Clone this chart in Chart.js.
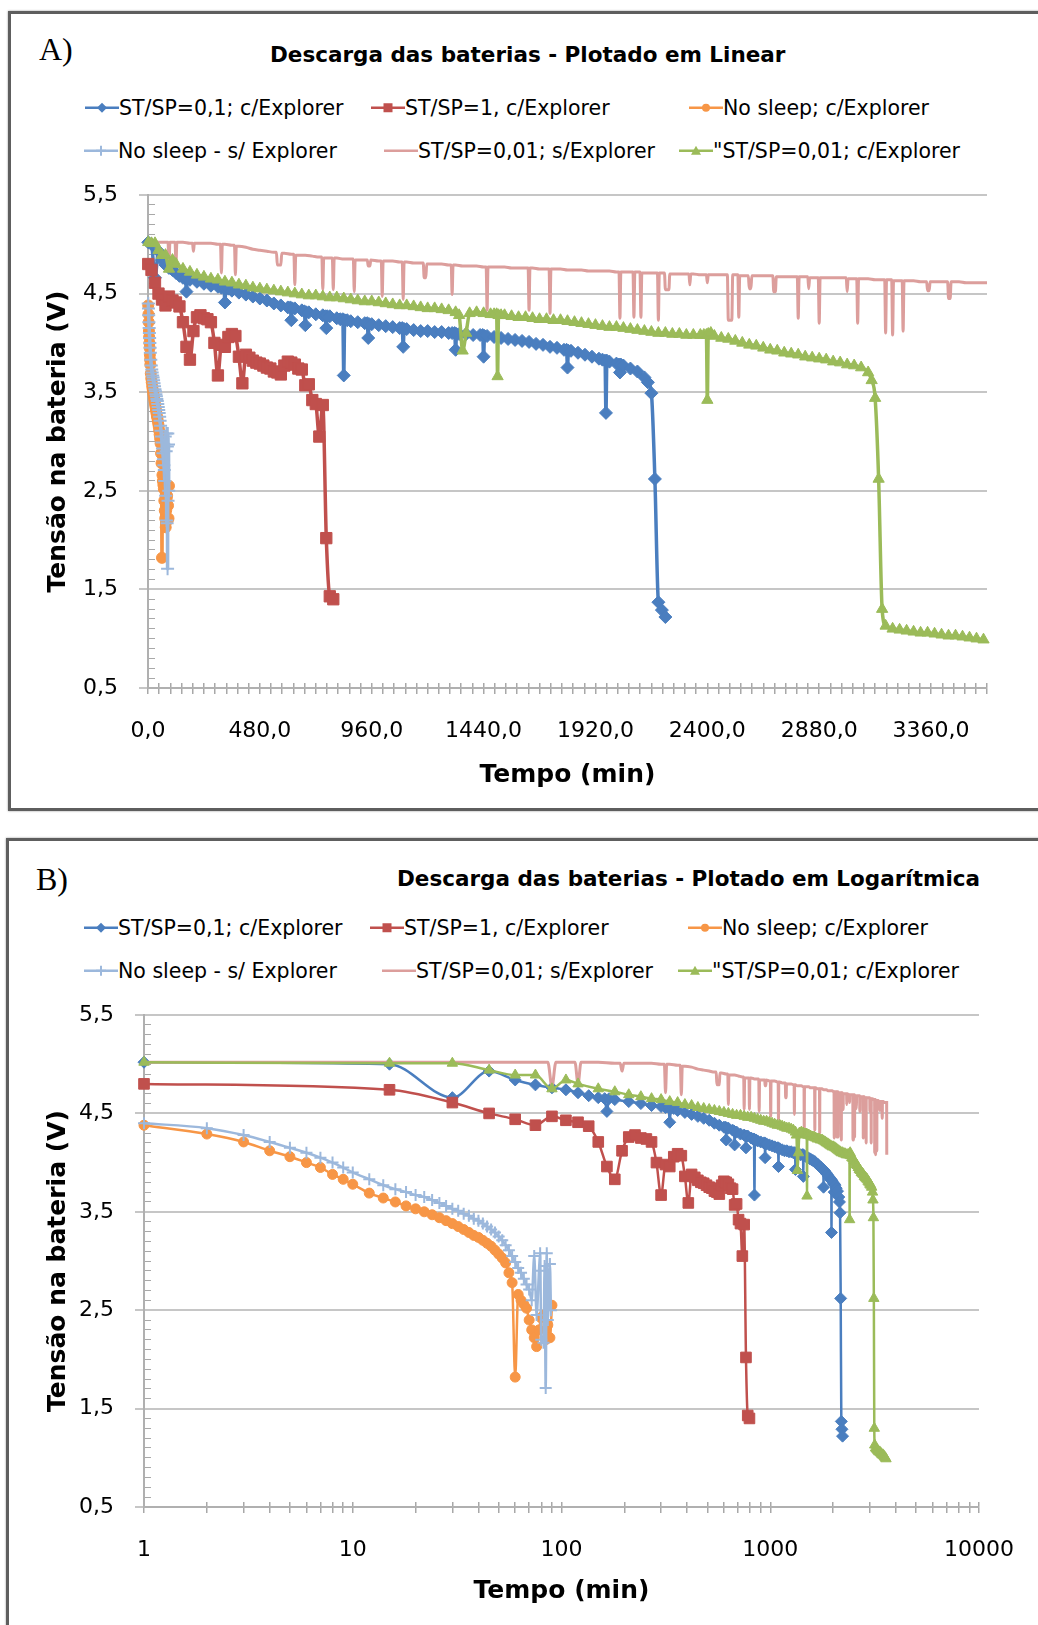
<!DOCTYPE html>
<html>
<head>
<meta charset="utf-8">
<script src="https://cdn.jsdelivr.net/npm/chart.js@4.4.1/dist/chart.umd.min.js"></script>
<style>
  body { margin: 0; background: #fff; width: 1038px; height: 1625px; overflow: hidden; position: relative; font-family: "DejaVu Sans", sans-serif; color: #000; }
  .box { position: absolute; border: 3px solid #5e5e5e; box-shadow: 0 0 2px #9a9a9a; }
  .tag { position: absolute; font-family: "Liberation Serif", serif; font-size: 32px; line-height: 1; transform: translateY(-50%); }
  .ttl { position: absolute; font-weight: bold; font-size: 21.5px; white-space: nowrap; line-height: 1; transform: translateY(-50%); }
  .leg { position: absolute; font-size: 20.5px; white-space: nowrap; line-height: 1; transform: translateY(-50%); display: flex; align-items: center; }
  canvas { position: absolute; left: 0; }
</style>
</head>
<body>
<div class="box" style="left:8px;top:11px;width:1100px;height:794px"></div>
<div class="box" style="left:6px;top:838px;width:1100px;height:900px"></div>
<div class="tag" style="left:39px;top:49px">A)</div>
<div class="tag" style="left:36px;top:879px">B)</div>
<div class="ttl" style="left:270px;top:55px">Descarga das baterias - Plotado em Linear</div>
<div class="ttl" style="left:397px;top:879px">Descarga das baterias - Plotado em Logarítmica</div>
<div id="legA"></div>
<div id="legB"></div>
<canvas id="chartA" width="1038" height="810" style="top:0;width:1038px;height:810px"></canvas>
<canvas id="chartB" width="1038" height="795" style="top:830px;width:1038px;height:795px"></canvas>
<script>
// series: [tempo (min), tensao (V)]
const blueData = [[1,5.02],[15,5.00],[30,4.66],[45,4.93],[60,4.84],[75,4.79],[90,4.76],[105,4.74],[120,4.71],[135,4.68],
  [150,4.66],[161,4.65],[165,4.52],[169,4.65],[180,4.64],[210,4.62],[240,4.60],[270,4.58],[300,4.57],[315,4.56],[326,4.56],[330,4.41],[334,4.55],[345,4.55],
  [360,4.53],[390,4.51],[420,4.49],[450,4.47],[480,4.45],[510,4.43],[540,4.40],[570,4.38],[600,4.36],[611,4.36],[615,4.23],[619,4.35],
  [630,4.35],[660,4.33],[671,4.32],[675,4.18],[679,4.31],[690,4.31],[720,4.29],[750,4.28],[761,4.27],[765,4.15],[769,4.27],[780,4.27],[810,4.25],[825,4.24],
  [836,4.24],[840,3.67],[844,4.23],[855,4.23],[870,4.22],[900,4.21],[930,4.20],[941,4.20],[945,4.05],[949,4.19],[960,4.19],[990,4.18],[1020,4.17],[1050,4.16],
  [1080,4.15],[1091,4.15],[1095,3.96],[1099,4.14],[1110,4.14],[1140,4.13],[1170,4.12],[1200,4.12],[1230,4.11],[1260,4.11],[1290,4.10],[1305,4.10],
  [1316,4.10],[1320,3.93],[1324,4.09],[1335,4.09],[1365,4.09],[1395,4.08],[1425,4.08],[1436,4.08],[1440,3.86],[1444,4.07],[1455,4.07],[1485,4.06],[1515,4.05],[1545,4.04],
  [1575,4.03],[1605,4.02],[1635,4.01],[1665,3.99],[1695,3.98],[1725,3.96],[1755,3.95],[1785,3.93],[1796,3.93],[1800,3.75],[1804,3.92],[1815,3.92],
  [1845,3.90],[1875,3.88],[1905,3.86],[1935,3.84],[1950,3.83],[1961,3.82],[1965,3.29],[1969,3.82],[1980,3.81],[2010,3.79],[2021,3.78],[2025,3.70],[2029,3.78],[2040,3.77],
  [2070,3.74],[2100,3.71],[2130,3.65],[2145,3.60],[2160,3.49],[2175,2.62],[2190,1.37],[2205,1.29],[2220,1.22]];

const redData = [[1,4.80],[15,4.74],[30,4.61],[45,4.50],[60,4.44],[75,4.38],[90,4.47],[105,4.43],[120,4.41],[135,4.37],
  [150,4.21],[165,3.96],[180,3.83],[195,4.12],[210,4.26],[225,4.28],[240,4.25],[255,4.24],[270,4.21],[285,4.00],
  [300,3.67],[315,3.98],[330,3.96],[345,4.06],[360,4.09],[375,4.07],[390,3.86],[405,3.59],[420,3.88],[435,3.85],
  [450,3.82],[465,3.80],[480,3.79],[495,3.77],[510,3.75],[525,3.74],[540,3.71],[555,3.70],[570,3.68],[585,3.77],
  [600,3.81],[615,3.80],[630,3.78],[645,3.74],[660,3.73],[675,3.57],[690,3.58],[705,3.42],[720,3.38],[735,3.05],
  [750,3.37],[765,2.02],[780,1.43],[795,1.40]];

const orangeData = [[1,4.38],[2,4.29],[3,4.21],[4,4.12],[5,4.06],[6,4.00],[7,3.95],[8,3.88],[9,3.83],[10,3.78],
  [12,3.69],[14,3.64],[16,3.60],[18,3.56],[20,3.53],[22,3.50],[24,3.47],[26,3.44],[28,3.41],[30,3.38],
  [32,3.35],[34,3.32],[36,3.29],[38,3.26],[40,3.24],[42,3.21],[44,3.18],[46,3.15],[48,3.11],[50,3.07],
  [52,3.03],[54,2.98],[56,2.88],[58,2.78],[60,1.82],[62,2.66],[64,2.60],[66,2.56],[68,2.52],[70,2.40],
  [72,2.30],[74,2.22],[76,2.13],[78,2.30],[80,2.42],[82,2.45],[84,2.20],[86,2.35],[88,2.22],[90,2.55]];

const lightBlueData = [[1,4.40],[2,4.35],[3,4.28],[4,4.21],[5,4.15],[6,4.10],[7,4.05],[8,4.00],[9,3.95],[10,3.90],
  [12,3.83],[14,3.77],[16,3.73],[18,3.70],[20,3.67],[22,3.65],[24,3.62],[26,3.59],[28,3.56],[30,3.53],
  [32,3.51],[34,3.48],[36,3.46],[38,3.43],[40,3.41],[42,3.38],[44,3.35],[46,3.32],[48,3.29],[50,3.25],
  [52,3.21],[54,3.16],[56,3.11],[58,3.05],[60,2.99],[62,2.93],[64,2.88],[66,2.82],[68,2.76],[70,2.71],
  [72,2.60],[74,3.05],[76,2.45],[78,2.90],[79,3.08],[80,2.20],[82,2.17],[83,2.95],[84,1.71],[85,3.08],
  [86,2.40],[88,2.97],[89,2.50]];

const pinkData = [[1,5.02],[30,5.02],[60,5.02],[75,5.02],[86,5.02],[90,4.77],[94,5.02],[105,5.02],[116,5.02],[120,4.80],[124,5.02],[135,5.02],[150,5.02],[180,5.01],
  [191,5.01],[195,4.93],[199,5.01],[210,5.01],[240,5.01],[270,5.01],[300,5.00],[311,5.00],[315,4.71],[319,5.00],[330,5.00],[360,4.99],[371,4.99],[375,4.69],[379,4.98],[390,4.98],
  [420,4.97],[450,4.95],[480,4.94],[510,4.93],[540,4.92],[551,4.92],[555,4.79],[570,4.79],[574,4.91],[585,4.91],[615,4.90],[626,4.90],[630,4.59],[634,4.89],
  [645,4.89],[675,4.89],[705,4.88],[735,4.87],[746,4.87],[750,4.54],[754,4.86],[765,4.86],[780,4.86],[791,4.86],[795,4.54],[799,4.86],[810,4.86],[840,4.85],
  [870,4.85],[881,4.85],[885,4.52],[889,4.84],[900,4.84],[930,4.84],[941,4.84],[945,4.78],[952,4.78],[956,4.84],[990,4.83],[1001,4.83],[1005,4.47],[1009,4.83],[1020,4.83],[1050,4.83],
  [1080,4.82],[1091,4.82],[1095,4.44],[1099,4.82],[1110,4.82],[1140,4.81],[1170,4.81],[1181,4.81],[1185,4.66],[1192,4.66],[1196,4.80],[1230,4.80],[1260,4.80],[1290,4.79],
  [1301,4.79],[1305,4.49],[1309,4.79],[1320,4.79],[1350,4.78],[1380,4.78],[1410,4.78],[1440,4.77],[1451,4.77],[1455,4.33],[1459,4.77],[1470,4.77],[1500,4.77],[1530,4.77],
  [1560,4.76],[1590,4.76],[1620,4.76],[1631,4.76],[1635,4.33],[1639,4.76],[1650,4.76],[1680,4.75],[1710,4.75],[1721,4.75],[1725,4.30],[1729,4.75],[1740,4.75],[1770,4.75],
  [1800,4.74],[1830,4.74],[1860,4.74],[1890,4.73],[1920,4.73],[1950,4.73],[1980,4.73],[2010,4.72],[2021,4.72],[2025,4.25],[2029,4.72],[2040,4.72],
  [2070,4.72],[2081,4.72],[2085,4.26],[2089,4.72],[2100,4.72],[2111,4.72],[2115,4.26],[2119,4.71],[2130,4.71],[2160,4.71],[2175,4.71],[2186,4.71],[2190,4.23],[2194,4.71],[2205,4.71],[2216,4.71],[2220,4.54],
  [2235,4.54],[2239,4.70],[2250,4.70],[2280,4.70],[2310,4.70],[2321,4.70],[2325,4.59],[2329,4.70],[2340,4.70],[2370,4.69],[2396,4.69],[2400,4.61],[2404,4.69],[2415,4.69],[2445,4.69],
  [2475,4.69],[2486,4.69],[2490,4.23],[2505,4.23],[2509,4.69],[2520,4.69],[2531,4.69],[2535,4.26],[2539,4.68],[2550,4.68],[2576,4.68],[2580,4.55],[2587,4.55],[2591,4.68],[2625,4.68],[2655,4.68],
  [2681,4.68],[2685,4.52],[2692,4.52],[2696,4.67],[2730,4.67],[2760,4.67],[2786,4.67],[2790,4.25],[2794,4.67],[2805,4.67],[2831,4.67],[2835,4.55],[2839,4.66],[2850,4.66],[2876,4.66],[2880,4.20],[2884,4.66],[2895,4.66],
  [2925,4.66],[2955,4.66],[2985,4.66],[2996,4.66],[3000,4.52],[3004,4.65],[3015,4.65],[3041,4.65],[3045,4.20],[3049,4.65],[3060,4.65],[3090,4.65],[3120,4.64],[3150,4.64],
  [3161,4.64],[3165,4.10],[3169,4.64],[3180,4.64],[3191,4.64],[3195,4.08],[3199,4.63],[3210,4.63],[3236,4.63],[3240,4.12],[3244,4.63],[3255,4.63],[3285,4.63],[3315,4.62],[3341,4.62],[3345,4.53],[3352,4.53],[3356,4.62],
  [3390,4.62],[3420,4.62],[3431,4.62],[3435,4.45],[3442,4.45],[3446,4.62],[3480,4.62],[3510,4.61],[3540,4.61],[3570,4.61],[3600,4.61],[3611,4.61],[3615,4.08]];

const greenData = [[1,5.02],[15,5.01],[30,5.01],[45,4.94],[60,4.89],[75,4.89],[90,4.75],[105,4.84],[120,4.80],[150,4.75],
  [180,4.72],[210,4.69],[240,4.67],[270,4.65],[300,4.64],[330,4.62],[360,4.61],[390,4.59],[420,4.58],[450,4.56],
  [480,4.55],[510,4.54],[540,4.53],[570,4.52],[600,4.51],[630,4.50],[660,4.49],[690,4.48],[720,4.48],[750,4.47],
  [780,4.46],[810,4.46],[840,4.45],[870,4.44],[900,4.43],[930,4.42],[960,4.42],[990,4.41],[1020,4.40],[1050,4.39],
  [1080,4.38],[1110,4.38],[1140,4.37],[1170,4.36],[1200,4.35],[1230,4.35],[1260,4.34],[1290,4.33],[1320,4.31],[1335,4.28],
  [1350,3.92],[1365,4.10],[1380,4.30],[1410,4.31],[1440,4.30],[1470,4.29],[1485,4.29],[1496,4.29],[1500,3.66],[1504,4.28],[1515,4.28],[1530,4.28],
  [1560,4.27],[1590,4.26],[1620,4.26],[1650,4.25],[1680,4.24],[1710,4.24],[1740,4.23],[1770,4.23],[1800,4.22],[1830,4.21],
  [1860,4.20],[1890,4.19],[1920,4.18],[1950,4.17],[1980,4.16],[2010,4.16],[2040,4.15],[2070,4.14],[2100,4.13],[2130,4.12],
  [2160,4.11],[2190,4.10],[2220,4.10],[2250,4.09],[2280,4.09],[2310,4.08],[2340,4.08],[2370,4.08],[2385,4.08],[2396,4.08],[2400,3.42],[2404,4.09],
  [2415,4.10],[2430,4.07],[2460,4.05],[2490,4.04],[2520,4.02],[2550,4.00],[2580,3.98],[2610,3.97],[2640,3.95],[2670,3.93],
  [2700,3.92],[2730,3.90],[2760,3.89],[2790,3.88],[2820,3.86],[2850,3.85],[2880,3.84],[2910,3.83],[2940,3.81],[2970,3.80],
  [3000,3.78],[3030,3.77],[3060,3.75],[3090,3.70],[3105,3.62],[3120,3.44],[3135,2.62],[3150,1.30],[3165,1.13],[3195,1.10],
  [3225,1.09],[3255,1.08],[3285,1.07],[3315,1.06],[3345,1.06],[3375,1.05],[3405,1.04],[3435,1.03],[3465,1.03],[3495,1.02],
  [3525,1.01],[3555,1.00],[3585,0.99]];

const seriesNames = ['ST/SP=0,1; c/Explorer', 'ST/SP=1, c/Explorer', 'No sleep; c/Explorer',
                     'No sleep - s/ Explorer', 'ST/SP=0,01; s/Explorer', '"ST/SP=0,01; c/Explorer'];
const seriesData = [blueData, redData, orangeData, lightBlueData, pinkData, greenData];

// axis ticks
const yMajor = [0.5, 1.5, 2.5, 3.5, 4.5, 5.5];
const yLabels = ['0,5', '1,5', '2,5', '3,5', '4,5', '5,5'];
const xMajorA = [0, 480, 960, 1440, 1920, 2400, 2880, 3360];
const xLabelsA = ['0,0', '480,0', '960,0', '1440,0', '1920,0', '2400,0', '2880,0', '3360,0'];
const xMajorB = [1, 10, 100, 1000, 10000];
const xLabelsB = ['1', '10', '100', '1000', '10000'];

// looks
const colors = ['#4a7ebf', '#c0504d', '#f79646', '#9cb8dc', '#dc9e9c', '#9bbb59'];
const markers = ['rectRot', 'rect', 'circle', 'cross', false, 'triangle'];
const markerSize = [5, 6.5, 4, 5, 0, 5];
const drawOrder = [6, 5, 4, 3, 2, 1];
const FONT = 'DejaVu Sans';

function findIdx(list, v) {
  return list.findIndex(m => Math.abs(m - v) < 1e-6);
}

function yTicks() {
  let out = [];
  for (let k = 5; k <= 55; k++) out.push({value: k / 10});
  return out;
}

function yScale(titlePad) {
  return {
    type: 'linear', min: 0.5, max: 5.5,
    afterBuildTicks: ax => { ax.ticks = yTicks(); },
    afterFit: s => { s.width = titlePad.w; },
    ticks: {
      autoSkip: false, padding: 21, color: '#000',
      font: {family: FONT, size: 22},
      callback: v => { const i = findIdx(yMajor, v); return i >= 0 ? yLabels[i] : ''; }
    },
    grid: {
      drawTicks: true, tickLength: 9,
      color: c => (c.tick && findIdx(yMajor, c.tick.value) >= 0) ? '#c6c6c6' : '#a8a8a8',
      lineWidth: c => (c.tick && findIdx(yMajor, c.tick.value) >= 0) ? 2 : 1,
      tickColor: c => (c.tick && findIdx(yMajor, c.tick.value) >= 0) ? '#c6c6c6' : 'rgba(0,0,0,0)',
      tickWidth: 2
    },
    border: {
      display: true, color: '#b0b0b0', width: 2,
      dash: c => (c.tick && findIdx(yMajor, c.tick.value) < 0) ? [6, 5000] : []
    },
    title: {
      display: true, text: 'Tensão na bateria (V)', color: '#000',
      font: {family: FONT, size: 25, weight: 'bold'},
      padding: {top: titlePad.t, bottom: 0}
    }
  };
}

function xGrid() {
  return {
    drawTicks: true, tickLength: 6, tickWidth: 1.5,
    color: '#a8a8a8', lineWidth: 1.5,
    tickColor: '#a8a8a8'
  };
}

function xBorder() {
  return {
    display: true, color: '#b0b0b0', width: 2,
    dash: c => c.tick ? [5, 5000] : [],
    dashOffset: c => (c.chart.chartArea ? -(c.chart.chartArea.height - 5) : 0)
  };
}

function makeSets(lineW, grow) {
  return seriesData.map((s, i) => ({
    label: seriesNames[i],
    data: s.map(p => ({x: p[0], y: p[1]})),
    borderColor: colors[i],
    backgroundColor: colors[i],
    borderWidth: markers[i] ? lineW : 3,
    pointStyle: markers[i],
    pointRadius: markerSize[i] ? markerSize[i] + grow : 0,
    pointBorderWidth: markers[i] === 'cross' ? 2 : 1,
    pointBorderColor: colors[i],
    pointBackgroundColor: colors[i],
    cubicInterpolationMode: 'monotone',
    order: drawOrder[i],
    clip: 9
  }));
}

const baseOptions = {
  responsive: false, animation: false, devicePixelRatio: 1,
  plugins: {legend: {display: false}, tooltip: {enabled: false}, title: {display: false}},
  events: []
};

// chart A: linear time axis
let xTicksA = [];
for (let v = 0; v <= 3600; v += 48) xTicksA.push(v);

new Chart(document.getElementById('chartA'), {
  type: 'line',
  data: {datasets: makeSets(3.5, 1.5)},
  options: Object.assign({}, baseOptions, {
    layout: {padding: {left: 30, right: 51, top: 195, bottom: 20}},
    scales: {
      x: {
        type: 'linear', min: 0, max: 3600,
        afterBuildTicks: ax => { ax.ticks = xTicksA.map(v => ({value: v})); },
        afterFit: s => { s.height = 102; },
        ticks: {
          autoSkip: false, maxRotation: 0, minRotation: 0, padding: 24, color: '#000',
          font: {family: FONT, size: 22},
          callback: v => { const i = findIdx(xMajorA, v); return i >= 0 ? xLabelsA[i] : ''; }
        },
        grid: xGrid(),
        border: xBorder(),
        title: {display: true, text: 'Tempo (min)', color: '#000', font: {family: FONT, size: 25, weight: 'bold'}, padding: {top: 0, bottom: 0}}
      },
      y: yScale({w: 118, t: 13})
    }
  })
});

// chart B: log time axis
let xTicksB = [];
for (let d = 1; d < 10000; d *= 10) {
  for (let m = 1; m < 10; m++) xTicksB.push(m * d);
}
xTicksB.push(10000);

new Chart(document.getElementById('chartB'), {
  type: 'line',
  data: {datasets: makeSets(2.5, 1)},
  options: Object.assign({}, baseOptions, {
    layout: {padding: {left: 30, right: 50, top: 185, bottom: 15}},
    scales: {
      x: {
        type: 'logarithmic', min: 1, max: 10000,
        afterBuildTicks: ax => { ax.ticks = xTicksB.map(v => ({value: v})); },
        afterFit: s => { s.height = 103; },
        ticks: {
          autoSkip: false, maxRotation: 0, minRotation: 0, padding: 24, color: '#000',
          font: {family: FONT, size: 22},
          callback: v => { const i = findIdx(xMajorB, v); return i >= 0 ? xLabelsB[i] : ''; }
        },
        grid: xGrid(),
        border: xBorder(),
        title: {display: true, text: 'Tempo (min)', color: '#000', font: {family: FONT, size: 25, weight: 'bold'}, padding: {top: 0, bottom: 4}}
      },
      y: yScale({w: 114, t: 13})
    }
  })
});

// legends (html)
const legendSpots = {
  legA: [[119, 108], [405, 108], [723, 108], [118, 151], [418, 151], [713, 151]],
  legB: [[118, 928], [404, 928], [722, 928], [118, 971], [416, 971], [712, 971]]
};

function markerSvg(i) {
  const c = colors[i];
  const w = 34, cy = 8, cx = 17;
  let m = '';
  if (markers[i] === 'rectRot') m = `<polygon points="${cx},${cy-5} ${cx+5},${cy} ${cx},${cy+5} ${cx-5},${cy}" fill="${c}"/>`;
  else if (markers[i] === 'rect') m = `<rect x="${cx-4.5}" y="${cy-4.5}" width="9" height="9" fill="${c}"/>`;
  else if (markers[i] === 'circle') m = `<circle cx="${cx}" cy="${cy}" r="4" fill="${c}"/>`;
  else if (markers[i] === 'cross') m = `<path d="M${cx-5} ${cy}H${cx+5}M${cx} ${cy-5}V${cy+5}" stroke="${c}" stroke-width="2"/>`;
  else if (markers[i] === 'triangle') m = `<polygon points="${cx},${cy-5} ${cx+5},${cy+4} ${cx-5},${cy+4}" fill="${c}"/>`;
  return `<svg width="${w}" height="16"><line x1="0" y1="${cy}" x2="${w}" y2="${cy}" stroke="${c}" stroke-width="2.5"/>${m}</svg>`;
}

for (const id of ['legA', 'legB']) {
  let html = '';
  legendSpots[id].forEach((p, i) => {
    html += `<div class="leg" style="left:${p[0] - 34}px;top:${p[1]}px">${markerSvg(i)}<span>${seriesNames[i].replace(/"/g, '&quot;')}</span></div>`;
  });
  document.getElementById(id).innerHTML = html;
}
</script>
</body>
</html>
